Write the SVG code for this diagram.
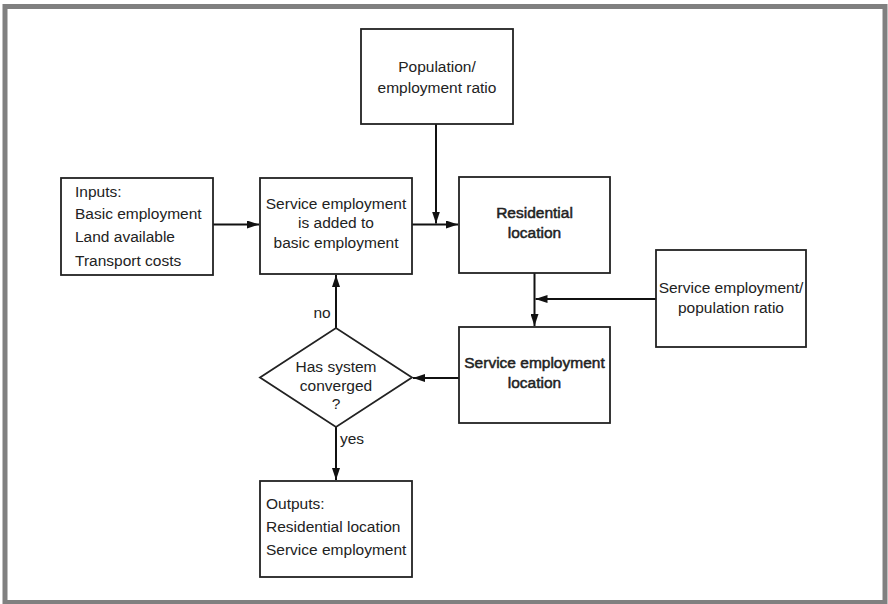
<svg xmlns="http://www.w3.org/2000/svg" width="888" height="604" viewBox="0 0 888 604">
<defs>
<marker id="ah" markerWidth="12" markerHeight="8" refX="12" refY="4" orient="auto" markerUnits="userSpaceOnUse">
<path d="M0,0 L12,4 L0,8 Z" fill="#111"/>
</marker>
<style>
.box{fill:#fff;stroke:#222;stroke-width:1.8}
.t{font-family:"Liberation Sans",Arial,sans-serif;font-size:15.5px;fill:#222}
.c{text-anchor:middle}
.b{stroke:#222;stroke-width:0.5}
.ln{fill:none;stroke:#111;stroke-width:2}
</style>
</defs>
<rect x="0" y="0" width="888" height="604" fill="#fff"/>
<rect x="5" y="6.5" width="880" height="596" fill="none" stroke="#808080" stroke-width="5"/>

<g id="connectors">
<line class="ln" x1="213" y1="224.5" x2="259" y2="224.5" marker-end="url(#ah)"/>
<line class="ln" x1="412" y1="224.5" x2="458" y2="224.5" marker-end="url(#ah)"/>
<line class="ln" x1="436" y1="124" x2="436" y2="223.5" marker-end="url(#ah)"/>
<line class="ln" x1="534.5" y1="273" x2="534.5" y2="326" marker-end="url(#ah)"/>
<line class="ln" x1="656" y1="299" x2="535.5" y2="299" marker-end="url(#ah)"/>
<line class="ln" x1="459" y1="378" x2="413" y2="378" stroke-width="2.6" marker-end="url(#ah)"/>
<line class="ln" x1="336" y1="328" x2="336" y2="275" marker-end="url(#ah)"/>
<line class="ln" x1="336" y1="427" x2="336" y2="480" marker-end="url(#ah)"/>
<text class="t c" x="322" y="318">no</text>
<text class="t c" x="352" y="444">yes</text>
</g>

<g id="population">
<rect class="box" x="361" y="29" width="152" height="95"/>
<text class="t c" x="437" y="72">Population/</text>
<text class="t c" x="437" y="93">employment ratio</text>
</g>

<g id="inputs">
<rect class="box" x="61" y="178" width="152" height="97"/>
<text class="t" x="75" y="197">Inputs:</text>
<text class="t" x="75" y="219">Basic employment</text>
<text class="t" x="75" y="242">Land available</text>
<text class="t" x="75" y="266">Transport costs</text>
</g>

<g id="service-added">
<rect class="box" x="260" y="178" width="152" height="96"/>
<text class="t c" x="336" y="209">Service employment</text>
<text class="t c" x="336" y="228">is added to</text>
<text class="t c" x="336" y="248">basic employment</text>
</g>

<g id="residential">
<rect class="box" x="459" y="177" width="151" height="96"/>
<text class="t c b" x="534.5" y="218">Residential</text>
<text class="t c b" x="534.5" y="238">location</text>
</g>

<g id="se-pop-ratio">
<rect class="box" x="656" y="250" width="150" height="97"/>
<text class="t c" x="731" y="293">Service employment/</text>
<text class="t c" x="731" y="313">population ratio</text>
</g>

<g id="se-location">
<rect class="box" x="459" y="327" width="151" height="96"/>
<text class="t c b" x="534.5" y="368">Service employment</text>
<text class="t c b" x="534.5" y="388">location</text>
</g>

<g id="converged">
<polygon class="box" points="260,377.5 336,328 412,377.5 336,427"/>
<text class="t c" x="336" y="372">Has system</text>
<text class="t c" x="336" y="391">converged</text>
<text class="t c" x="336" y="409">?</text>
</g>

<g id="outputs">
<rect class="box" x="260" y="481" width="152" height="96"/>
<text class="t" x="266" y="509">Outputs:</text>
<text class="t" x="266" y="532">Residential location</text>
<text class="t" x="266" y="555">Service employment</text>
</g>
</svg>
